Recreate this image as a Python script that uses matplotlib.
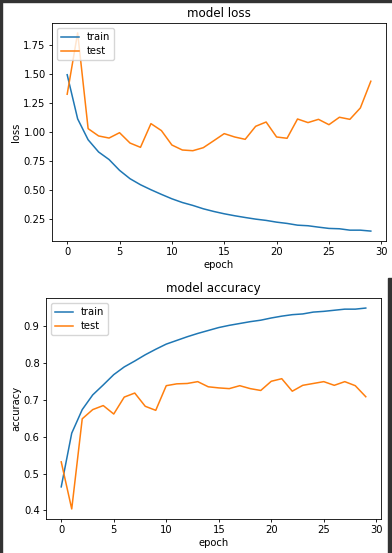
import matplotlib
matplotlib.use('Agg')
import matplotlib.pyplot as plt
from matplotlib.patches import Rectangle

# history values
epochs = list(range(30))
train_loss = [1.49, 1.11, 0.93, 0.825, 0.76, 0.667, 0.595, 0.543, 0.50, 0.46,
              0.422, 0.39, 0.365, 0.336, 0.313, 0.293, 0.276, 0.261, 0.247, 0.236,
              0.221, 0.21, 0.195, 0.19, 0.178, 0.167, 0.164, 0.152, 0.152, 0.144]
test_loss = [1.322, 1.85, 1.026, 0.963, 0.945, 0.991, 0.902, 0.865, 1.069, 1.009,
             0.885, 0.842, 0.836, 0.862, 0.922, 0.983, 0.954, 0.934, 1.046, 1.083,
             0.954, 0.943, 1.109, 1.078, 1.106, 1.06, 1.124, 1.106, 1.204, 1.434]
train_acc = [0.464, 0.61, 0.674, 0.714, 0.741, 0.769, 0.79, 0.806, 0.823, 0.838,
             0.852, 0.862, 0.872, 0.881, 0.889, 0.897, 0.903, 0.908, 0.913, 0.917,
             0.923, 0.928, 0.932, 0.934, 0.939, 0.941, 0.944, 0.947, 0.947, 0.95]
test_acc = [0.532, 0.404, 0.649, 0.674, 0.685, 0.662, 0.708, 0.719, 0.683, 0.672,
            0.739, 0.744, 0.745, 0.75, 0.736, 0.733, 0.731, 0.739, 0.731, 0.726,
            0.751, 0.758, 0.724, 0.74, 0.745, 0.75, 0.74, 0.75, 0.739, 0.709]

W, H = 392, 553
fs = 7.2
lw = 1.1

fig = plt.figure(figsize=(W / 100, H / 100), dpi=100)

def px_axes(left, top, right, bottom):
    # pixel box -> figure fraction
    return fig.add_axes([left / W, 1 - bottom / H, (right - left) / W, (bottom - top) / H])

def style(ax, title, ylabel):
    ax.set_title(title, fontsize=8.6, pad=4)
    ax.set_xlabel('epoch', fontsize=fs, labelpad=2)
    ax.set_ylabel(ylabel, fontsize=fs, labelpad=2)
    ax.tick_params(labelsize=fs, length=2.5, width=0.6, pad=2)
    for s in ax.spines.values():
        s.set_linewidth(0.6)
    ax.legend(['train', 'test'], loc='upper left', fontsize=fs,
              handlelength=1.8, borderpad=0.4, labelspacing=0.4, framealpha=0.8)

ax1 = px_axes(52, 23, 386, 241)
ax1.plot(epochs, train_loss, lw=lw)
ax1.plot(epochs, test_loss, lw=lw)
ax1.set_xticks([0, 5, 10, 15, 20, 25, 30])
ax1.set_yticks([0.25, 0.5, 0.75, 1.0, 1.25, 1.5, 1.75])
style(ax1, 'model loss', 'loss')

ax2 = px_axes(46, 298, 381, 519)
ax2.plot(epochs, train_acc, lw=lw)
ax2.plot(epochs, test_acc, lw=lw)
ax2.set_xticks([0, 5, 10, 15, 20, 25, 30])
ax2.set_yticks([0.4, 0.5, 0.6, 0.7, 0.8, 0.9])
style(ax2, 'model accuracy', 'accuracy')

# screenshot frame bits
fig.add_artist(Rectangle((0, 1 - 2 / H), 1, 2 / H, transform=fig.transFigure, color='#333333'))
fig.add_artist(Rectangle((0, 0), 2 / W, 1, transform=fig.transFigure, color='#333333'))
fig.add_artist(Rectangle((388 / W, 0), 4 / W, (H - 278) / H, transform=fig.transFigure, color='#333333'))

fig.savefig('out.png', dpi=100)
